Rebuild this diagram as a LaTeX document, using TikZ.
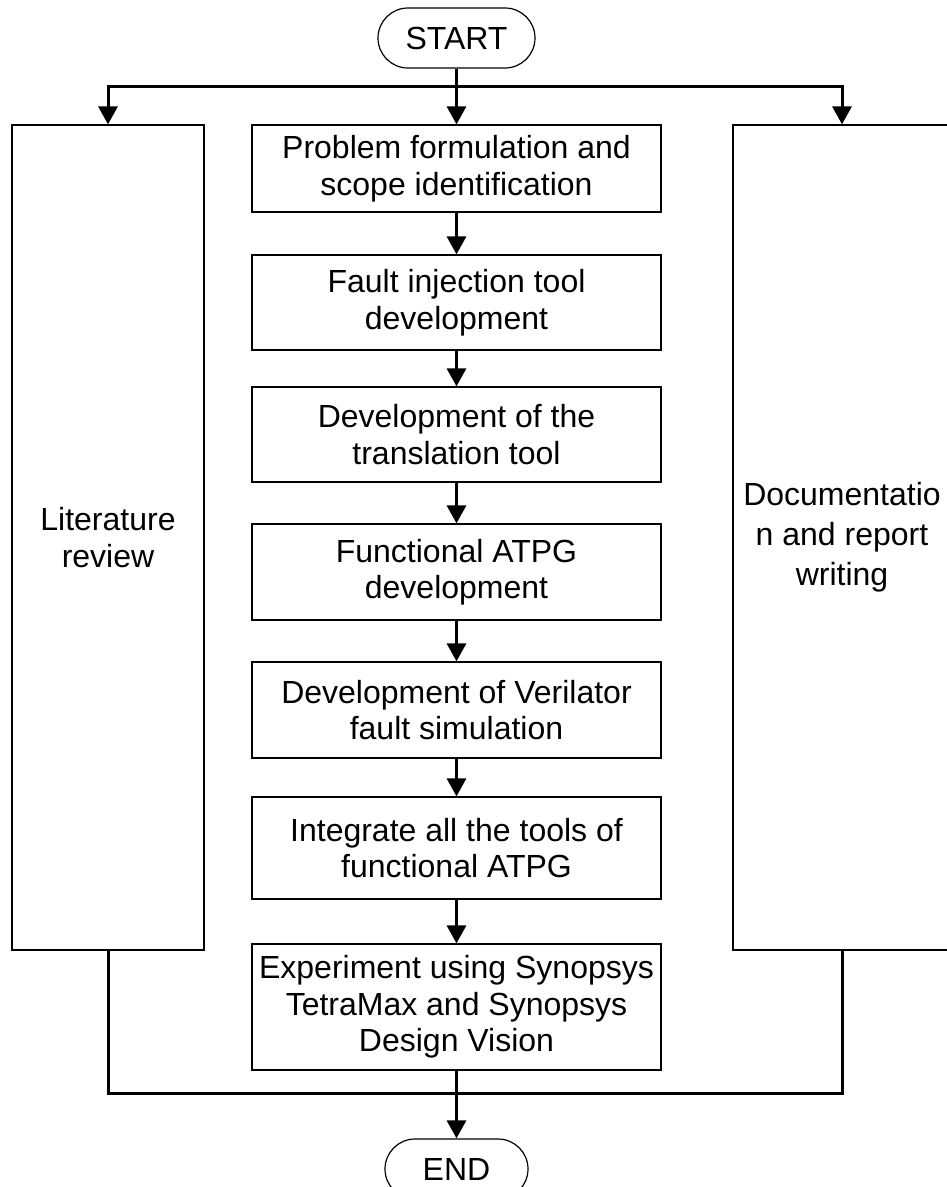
\documentclass[tikz,border=0pt]{standalone}
\usepackage{fontspec}
\setmainfont{Liberation Sans}
\usepackage{tikz}
\usetikzlibrary{calc}
\usetikzlibrary{arrows}
\usetikzlibrary{arrows.meta}
\usetikzlibrary{positioning}

\begin{document}
\begin{tikzpicture}[x=1pt,y=-1pt,
  box/.style={draw,line width=1.2pt,inner sep=0pt,align=center,minimum width=409pt,
    font=\fontsize{32}{36.5}\selectfont},
  term/.style={box,rounded corners=30pt,minimum height=60pt},
  flow/.style={line width=3pt,-{Triangle[length=18pt,width=19pt]}},
  link/.style={line width=3pt}]
\useasboundingbox (0,0) rectangle (947,1187);
\node[term,minimum width=157pt] (start) at (456.5,38) {START};
\node[box,minimum width=192pt,minimum height=825pt] (lit) at (108,537.5) {Literature\\review};
\node[box,minimum width=218pt,minimum height=825pt,font=\fontsize{32}{40}\selectfont] (doc) at (842,537.5) {Documentatio\\n and report\\writing};
\node[box,minimum height=87pt] (prob) at (456.5,168.5) {Problem formulation and\\scope identification};
\node[box,minimum height=95pt] (inject) at (456.5,302.5) {Fault injection tool\\development};
\node[box,minimum height=95pt] (trans) at (456.5,434.5) {Development of the\\translation tool};
\node[box,minimum height=96pt] (atpg) at (456.5,572) {Functional ATPG\\development};
\node[box,minimum height=96pt] (veri) at (456.5,710) {Development of Verilator\\fault simulation};
\node[box,minimum height=102pt] (integ) at (456.5,848) {Integrate all the tools of\\functional ATPG};
\node[box,minimum height=126pt] (expt) at (456.5,1007) {Experiment using Synopsys\\TetraMax and Synopsys\\Design Vision};
\node[term,minimum width=143pt] (end) at (456.5,1169) {END};
\coordinate (split) at (456.5,86);
\coordinate (merge) at (456.5,1093);
% fork after start
\draw[flow] (split) -| (lit.north);
\draw[flow] (split) -| (doc.north);
\draw[flow] (start) -- (prob);
% main chain
\draw[flow] (prob) -- (inject);
\draw[flow] (inject) -- (trans);
\draw[flow] (trans) -- (atpg);
\draw[flow] (atpg) -- (veri);
\draw[flow] (veri) -- (integ);
\draw[flow] (integ) -- (expt);
% join before end
\draw[link] (lit.south) |- (merge) -| (doc.south);
\draw[flow] (expt) -- (end);
\end{tikzpicture}
\end{document}
